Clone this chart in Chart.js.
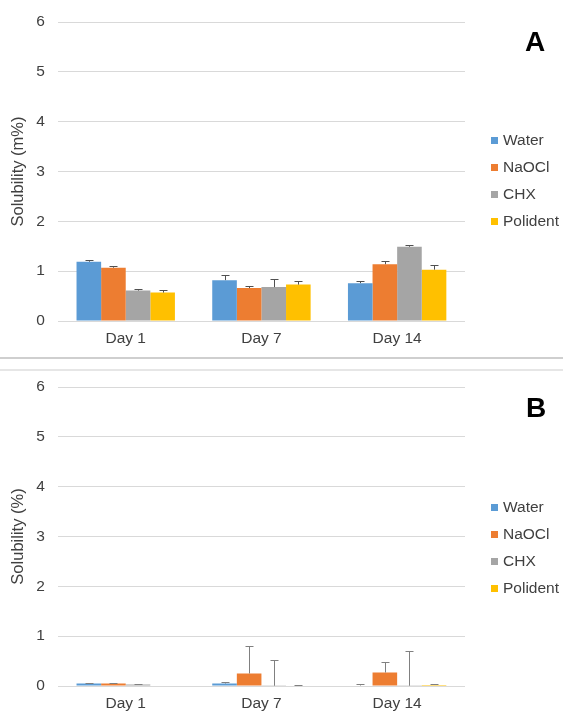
<!DOCTYPE html>
<html lang="en">
<head>
    <meta charset="UTF-8">
    <title>Solubility</title>
    <script src="https://cdn.jsdelivr.net/npm/chart.js"></script>
    <style>
        body {
            margin: 0;
            padding: 0;
            background: #fff;
            font-family: 'Liberation Sans', Arial, sans-serif;
            overflow: hidden;
        }
        .page {
            position: relative;
            width: 563px;
            height: 711px;
            overflow: hidden;
        }
        canvas {
            display: block;
        }
        .sep {
            height: 10px;
            border-top: 2px solid #cfcfcf;
            border-bottom: 2px solid #e6e6e6;
        }
        .panel-letter {
            position: absolute;
            font-weight: bold;
            font-size: 28px;
            color: #000;
            line-height: 28px;
            width: 40px;
            text-align: center;
        }
        .legend {
            position: absolute;
            left: 491px;
            font-size: 15.5px;
            color: #404040;
        }
        .legend div {
            position: absolute;
            white-space: nowrap;
            height: 18px;
            line-height: 18px;
        }
        .legend span {
            display: inline-block;
            width: 7px;
            height: 7px;
            margin-right: 5px;
            vertical-align: 1px;
        }
    </style>
</head>
<body>
<div class="page">
    <canvas id="chartA" width="563" height="357"></canvas>
    <div class="sep"></div>
    <canvas id="chartB" width="563" height="351"></canvas>

    <div class="panel-letter" style="left:515px; top:28px;">A</div>
    <div class="panel-letter" style="left:516px; top:394px;">B</div>
    <div class="legend" id="legendA" style="top:131px;"></div>
    <div class="legend" id="legendB" style="top:498px;"></div>
</div>

<script>
    // categories and series
    const days = ['Day 1', 'Day 7', 'Day 14'];
    const groups = ['Water', 'NaOCl', 'CHX', 'Polident'];
    const barColors = ['#5B9BD5', '#ED7D31', '#A5A5A5', '#FFC000'];

    // panel A: solubility (m%)
    const waterA = [1.19, 0.82, 0.76];
    const naoclA = [1.07, 0.66, 1.14];
    const chxA = [0.61, 0.68, 1.49];
    const polidentA = [0.57, 0.73, 1.03];
    const waterAErr = [0.03, 0.10, 0.04];
    const naoclAErr = [0.04, 0.04, 0.07];
    const chxAErr = [0.04, 0.16, 0.03];
    const polidentAErr = [0.05, 0.07, 0.10];

    // panel B: solubility (%)
    const waterB = [0.05, 0.05, 0.01];
    const naoclB = [0.05, 0.25, 0.27];
    const chxB = [0.03, 0.005, 0.005];
    const polidentB = [0.0, 0.0, 0.02];
    const waterBErr = [0.02, 0.04, 0.04];
    const naoclBErr = [0.02, 0.56, 0.22];
    const chxBErr = [0.02, 0.52, 0.70];
    const polidentBErr = [0.0, 0.03, 0.03];

    const yTicks = [0, 1, 2, 3, 4, 5, 6];

    const textColor = '#404040';
    const gridColor = '#d9d9d9';

    // draws the upper error whiskers using the chart's own y scale
    const errorBars = {
        id: 'errorBars',
        afterDatasetsDraw(chart, args, opts) {
            const ctx = chart.ctx;
            const yScale = chart.scales.y;
            ctx.save();
            ctx.strokeStyle = opts.color;
            ctx.lineWidth = 1;
            chart.data.datasets.forEach((ds, i) => {
                const meta = chart.getDatasetMeta(i);
                meta.data.forEach((bar, j) => {
                    const err = ds.errors[j];
                    if (!err) return;
                    const x = Math.round(bar.x) + 0.5;
                    const top = Math.round(yScale.getPixelForValue(ds.data[j] + err)) + 0.5;
                    ctx.beginPath();
                    ctx.moveTo(x, bar.y);
                    ctx.lineTo(x, top);
                    ctx.moveTo(x - 4, top);
                    ctx.lineTo(x + 4, top);
                    ctx.stroke();
                });
            });
            ctx.restore();
        }
    };

    function makeDatasets(values, errors) {
        return groups.map((g, i) => ({
            label: g,
            data: values[i],
            errors: errors[i],
            backgroundColor: barColors[i],
            borderWidth: 0,
            barPercentage: 1,
            categoryPercentage: 0.725
        }));
    }

    function makeChart(id, datasets, yTitle, topPad, bottomPad, errColor) {
        return new Chart(document.getElementById(id), {
            type: 'bar',
            data: { labels: days, datasets: datasets },
            plugins: [errorBars],
            options: {
                responsive: false,
                animation: false,
                devicePixelRatio: 1,
                layout: { padding: { left: 2, right: 98, top: topPad, bottom: bottomPad } },
                plugins: {
                    legend: { display: false },
                    tooltip: { enabled: false },
                    errorBars: { color: errColor }
                },
                scales: {
                    x: {
                        grid: { display: false, drawTicks: false },
                        border: { display: false },
                        ticks: {
                            color: textColor,
                            padding: 8,
                            font: { family: 'Liberation Sans, Arial', size: 15.5 }
                        }
                    },
                    y: {
                        min: yTicks[0],
                        max: yTicks[yTicks.length - 1],
                        afterBuildTicks: (axis) => { axis.ticks = yTicks.map(v => ({ value: v })); },
                        grid: { color: gridColor, lineWidth: 1, tickColor: 'transparent', tickLength: 7 },
                        border: { display: false },
                        ticks: {
                            color: textColor,
                            padding: 6,
                            font: { family: 'Liberation Sans, Arial', size: 15.5 }
                        },
                        title: {
                            display: true,
                            text: yTitle,
                            color: textColor,
                            padding: { top: 7.75, bottom: 4 },
                            font: { family: 'Liberation Sans, Arial', size: 16.5, lineHeight: 1 }
                        }
                    }
                }
            }
        });
    }

    makeChart('chartA',
        makeDatasets([waterA, naoclA, chxA, polidentA], [waterAErr, naoclAErr, chxAErr, polidentAErr]),
        'Solubility (m%)', 22, 1.4, '#505050');

    makeChart('chartB',
        makeDatasets([waterB, naoclB, chxB, polidentB], [waterBErr, naoclBErr, chxBErr, polidentBErr]),
        'Solubility (%)', 16, 1.4, '#808080');

    // legends at the right of each panel
    function buildLegend(id) {
        const box = document.getElementById(id);
        groups.forEach((g, i) => {
            const row = document.createElement('div');
            row.style.top = (i * 27) + 'px';
            row.innerHTML = '<span style="background:' + barColors[i] + '"></span>' + g;
            box.appendChild(row);
        });
    }
    buildLegend('legendA');
    buildLegend('legendB');
</script>
</body>
</html>
